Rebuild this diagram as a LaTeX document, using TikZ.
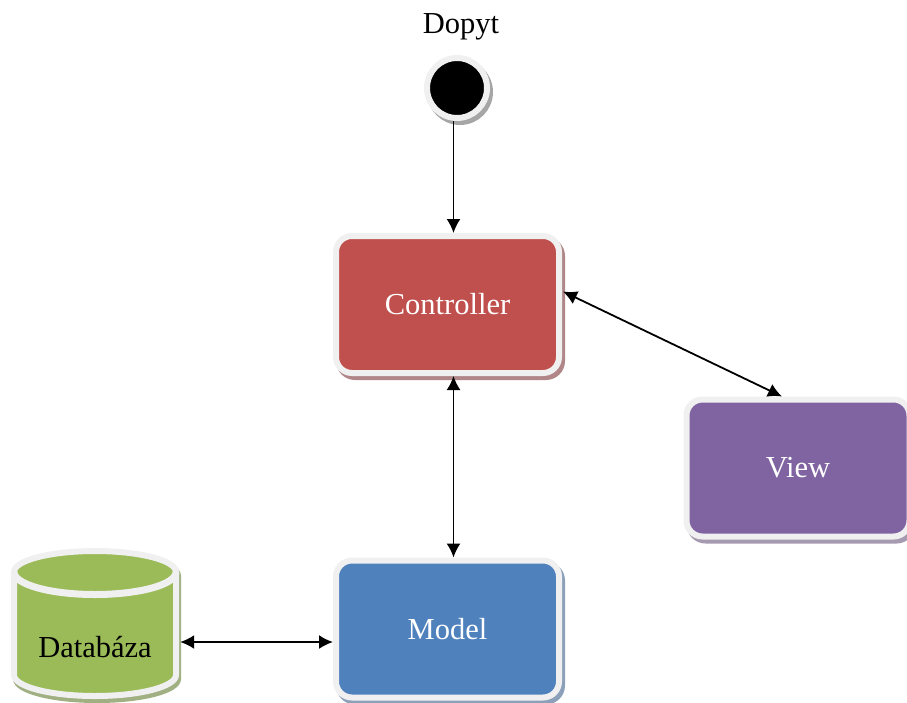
\documentclass[tikz,border=0pt]{standalone}
\usepackage{fontspec}
\setmainfont{Liberation Serif}
\usetikzlibrary{arrows.meta}
\usetikzlibrary{shadows}
\definecolor{rededge}{RGB}{176,134,136}
\definecolor{purpleedge}{RGB}{166,154,176}
\definecolor{blueedge}{RGB}{140,160,186}
\definecolor{greenedge}{RGB}{160,176,130}
\definecolor{boxred}{RGB}{192,80,77}
\definecolor{boxpurple}{RGB}{128,100,162}
\definecolor{boxblue}{RGB}{79,129,189}
\definecolor{boxgreen}{RGB}{155,187,89}
\definecolor{rim}{RGB}{240,240,240}
\newcommand{\dbpath}{(14,572) arc[start angle=180, end angle=0, x radius=81pt, y radius=21pt]
  -- (176,675) arc[start angle=0, end angle=-180, x radius=81pt, y radius=21pt] -- cycle}

\begin{document}
\begin{tikzpicture}[x=1pt, y=-1pt,
every node/.style = {font=\fontsize{30.5}{34}\selectfont},
  mvcbox/.style 2 args = {draw=rim, line width=6pt, fill=#1, text=white, rounded corners=16pt,
    minimum width=223pt, minimum height=137pt,
    copy shadow={draw=#2, fill=#2, shadow xshift=3pt, shadow yshift=-4pt}},
  link/.style = {{Latex[length=14pt,width=14pt]}-{Latex[length=14pt,width=14pt]}, line width=1.8pt}
]
\useasboundingbox (0,0) rectangle (907,702);
\node (dopyt) at (461,27) {Dopyt};
\node[circle, draw=rim, fill=black, line width=6pt, minimum size=60pt, inner sep=0pt,
  copy shadow={draw=gray!70, fill=gray!70, shadow xshift=3pt, shadow yshift=-4pt}] (start) at (457,88) {};
\node[mvcbox={boxred}{rededge}] (controller) at (447.5,304.5) {Controller};
\node[mvcbox={boxpurple}{purpleedge}] (view) at (798,468) {View};
\node[mvcbox={boxblue}{blueedge}] (model) at (447.5,629) {Model};
% database barrel
\draw[draw=greenedge, fill=greenedge, line width=6pt, xshift=2pt, yshift=-4pt] \dbpath;
\draw[draw=rim, fill=boxgreen, line width=6pt] \dbpath;
\draw[draw=rim, line width=7pt] (14,572) arc[start angle=180, end angle=360, x radius=81pt, y radius=22.5pt];
\node[text=black, minimum width=168pt] (database) at (95,647) {Databáza};

\draw[-{Latex[length=14pt,width=14pt]}, line width=1.8pt] ([xshift=-3.5pt]start.south) -- ([xshift=6pt]controller.north);
\draw[link] (controller.east) ++(1,-13) coordinate (cview) -- ([xshift=-16pt]view.north);
\draw[link] ([xshift=6pt]controller.south) -- ([xshift=6pt]model.north);
\draw[link] (database.east) ++(1,-5) coordinate (dbmodel) -- (dbmodel -| model.west);
\end{tikzpicture}
\end{document}
